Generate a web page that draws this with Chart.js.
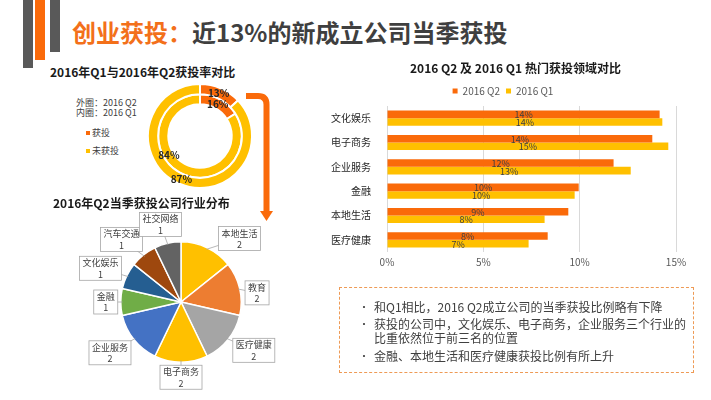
<!DOCTYPE html>
<html>
<head>
<meta charset="utf-8">
<script src="https://cdn.jsdelivr.net/npm/chart.js@4.4.0/dist/chart.umd.min.js"></script>
<style>
  body { margin: 0; width: 711px; height: 400px; background: #fff; position: relative; overflow: hidden;
         font-family: "Noto Sans CJK SC", sans-serif; color: #404040; }
  .abs { position: absolute; }
  .deco { position: absolute; top: 0; width: 10px; }
  .heading { left: 72px; top: 18px; font-size: 24px; font-weight: bold; line-height: 28px; color: #3f3f3f; white-space: nowrap; }
  .heading span { color: #f3701a; }
  .sub { font-size: 12px; font-weight: bold; line-height: 16px; color: #1a1a1a; white-space: nowrap; }
  .small { font-size: 9px; line-height: 11px; color: #404040; white-space: nowrap; }
  .sq { display: inline-block; width: 4px; height: 4px; margin-right: 2px; vertical-align: middle; position: relative; top: -1px; }
  .note { left: 339px; top: 287px; width: 355px; height: 86px; box-sizing: border-box; border: 1px dashed #ee9a55; }
  .note ul { margin: 0; padding: 11.7px 0 0 34px; list-style: none; }
  .note li { font-size: 12px; line-height: 14px; margin-bottom: 3.6px; position: relative; white-space: nowrap; color: #404040; }
  .note li::before { content: "•"; position: absolute; left: -15px; font-size: 10px; }
</style>
</head>
<body>
<div class="deco" style="left:23px;height:68px;background:#595959"></div>
<div class="deco" style="left:35px;height:60px;background:#fa6a0a"></div>
<div class="deco" style="left:50px;height:52px;background:#595959"></div>
<div class="abs heading"><span>创业获投：</span>近13%的新成立公司当季获投</div>

<div class="abs sub" style="left:50px;top:64px">2016年Q1与2016年Q2获投率对比</div>
<div class="abs small" style="left:76px;top:97px">外圈：2016 Q2</div>
<div class="abs small" style="left:76px;top:107px">内圈：2016 Q1</div>
<div class="abs small" style="left:86px;top:127px"><i class="sq" style="background:#fa6a0a"></i>获投</div>
<div class="abs small" style="left:86px;top:145px"><i class="sq" style="background:#ffc000"></i>未获投</div>
<canvas id="ringChart" class="abs" width="106" height="106" style="left:147px;top:83px"></canvas>

<svg class="abs" style="left:0;top:0" width="711" height="400">
  <path d="M246 96 H258 Q266.5 96 266.5 104.5 V212" fill="none" stroke="#fa6a0a" stroke-width="6"/>
  <path d="M260 211 L273 211 L266.5 221 Z" fill="#fa6a0a"/>
</svg>

<div class="abs sub" style="left:53px;top:195px">2016年Q2当季获投公司行业分布</div>
<canvas id="pieChart" class="abs" width="222" height="180" style="left:70px;top:212px"></canvas>

<div class="abs sub" style="left:410px;top:60px">2016 Q2 及 2016 Q1 热门获投领域对比</div>
<canvas id="barChart" class="abs" width="370" height="200" style="left:330px;top:80px"></canvas>

<div class="abs note">
  <ul>
    <li>和Q1相比，2016 Q2成立公司的当季获投比例略有下降</li>
    <li>获投的公司中，文化娱乐、电子商务，企业服务三个行业的<br>比重依然位于前三名的位置</li>
    <li>金融、本地生活和医疗健康获投比例有所上升</li>
  </ul>
</div>

<script>
// 获投率 (doughnut)
const ringLabels = ['获投', '未获投'];
const ringQ2 = [13, 87];   // 外圈
const ringQ1 = [16, 84];   // 内圈

// 2016 Q2 当季获投公司行业分布 (pie)
const pieLabels = ['本地生活', '教育', '医疗健康', '电子商务', '企业服务', '金融', '文化娱乐', '汽车交通', '社交网络'];
const pieValues = [2, 2, 2, 2, 2, 1, 1, 1, 1];

// 热门获投领域对比 (bar, %)
const barCategories = ['文化娱乐', '电子商务', '企业服务', '金融', '本地生活', '医疗健康'];
const barQ2 = [14.15, 13.77, 11.76, 9.95, 9.41, 8.34];
const barQ1 = [14.29, 14.6, 12.65, 9.74, 8.18, 7.35];
const barTicks = [0, 5, 10, 15];

const ORANGE = '#fa6a0a';
const GOLD = '#ffc000';
const pieColors = ['#ffc000', '#ed7d31', '#a5a5a5', '#ffc000', '#4472c4', '#70ad47', '#255e91', '#9e480e', '#636363'];
const calloutTurn = [17, 6, -5, 0, 3, 0, -3, -5, -2]; // degrees, nudges callouts like the slide
const ringLabelTurn = [[0, 0], [0, 29]];               // degrees, per ring / slice

Chart.defaults.font.family = '"Noto Sans CJK SC", sans-serif';
Chart.defaults.animation = false;

const ringValueLabels = {
  id: 'ringValueLabels',
  afterDatasetsDraw(chart) {
    const ctx = chart.ctx;
    ctx.save();
    ctx.font = 'bold 10px "Noto Sans CJK SC"';
    ctx.fillStyle = '#262626';
    ctx.textAlign = 'center';
    ctx.textBaseline = 'middle';
    chart.data.datasets.forEach((ds, i) => {
      chart.getDatasetMeta(i).data.forEach((arc, j) => {
        const a = arc.getProps(['x', 'y', 'startAngle', 'endAngle', 'innerRadius', 'outerRadius']);
        const mid = (a.startAngle + a.endAngle) / 2 + ringLabelTurn[i][j] * Math.PI / 180;
        const r = (a.innerRadius + a.outerRadius) / 2;
        ctx.fillText(ds.data[j] + '%', a.x + Math.cos(mid) * r, a.y + Math.sin(mid) * r);
      });
    });
    ctx.restore();
  }
};

new Chart(document.getElementById('ringChart'), {
  type: 'doughnut',
  data: {
    labels: ringLabels,
    datasets: [
      { label: '2016 Q2', data: ringQ2, backgroundColor: [ORANGE, GOLD], borderColor: '#fff', borderWidth: 2 },
      { label: '2016 Q1', data: ringQ1, backgroundColor: [ORANGE, GOLD], borderColor: '#fff', borderWidth: 2 }
    ]
  },
  options: {
    responsive: false,
    cutout: '61%',
    plugins: { legend: { display: false }, tooltip: { enabled: false } }
  },
  plugins: [ringValueLabels]
});

const pieCallouts = {
  id: 'pieCallouts',
  afterDatasetsDraw(chart) {
    const ctx = chart.ctx;
    const ds = chart.data.datasets[0];
    ctx.save();
    ctx.font = '9px "Noto Sans CJK SC"';
    chart.getDatasetMeta(0).data.forEach((arc, j) => {
      const a = arc.getProps(['x', 'y', 'startAngle', 'endAngle', 'outerRadius']);
      const mid = (a.startAngle + a.endAngle) / 2 + calloutTurn[j] * Math.PI / 180;
      const c = Math.cos(mid), s = Math.sin(mid);
      const lines = [chart.data.labels[j], String(ds.data[j])];
      const w = Math.max(...lines.map(t => ctx.measureText(t).width)) + 6;
      const h = 24;
      const d = a.outerRadius + 3 + Math.abs(s) * h / 2 + Math.abs(c) * w / 2;
      const bx = a.x + c * d, by = a.y + s * d;
      const am = (a.startAngle + a.endAngle) / 2;
      ctx.strokeStyle = '#a6a6a6';
      ctx.lineWidth = 0.8;
      ctx.beginPath();
      ctx.moveTo(a.x + Math.cos(am) * a.outerRadius * 0.97, a.y + Math.sin(am) * a.outerRadius * 0.97);
      ctx.lineTo(bx, by);
      ctx.stroke();
      ctx.fillStyle = '#fff';
      ctx.fillRect(bx - w / 2, by - h / 2, w, h);
      ctx.strokeRect(bx - w / 2, by - h / 2, w, h);
      ctx.fillStyle = '#404040';
      ctx.textAlign = 'center';
      ctx.textBaseline = 'middle';
      ctx.fillText(lines[0], bx, by - 5.5);
      ctx.fillText(lines[1], bx, by + 6);
    });
    ctx.restore();
  }
};

new Chart(document.getElementById('pieChart'), {
  type: 'pie',
  data: {
    labels: pieLabels,
    datasets: [{ data: pieValues, backgroundColor: pieColors, borderColor: '#fff', borderWidth: 1.5 }]
  },
  options: {
    responsive: false,
    layout: { padding: { top: 29, bottom: 29, left: 40, right: 40 } },
    plugins: { legend: { display: false }, tooltip: { enabled: false } }
  },
  plugins: [pieCallouts]
});

const barValueLabels = {
  id: 'barValueLabels',
  afterDatasetsDraw(chart) {
    const ctx = chart.ctx;
    ctx.save();
    ctx.font = '9px "Noto Sans CJK SC"';
    ctx.fillStyle = '#404040';
    ctx.textAlign = 'center';
    ctx.textBaseline = 'middle';
    chart.data.datasets.forEach((ds, i) => {
      chart.getDatasetMeta(i).data.forEach((bar, j) => {
        const p = bar.getProps(['x', 'y', 'base']);
        ctx.fillText(Math.round(ds.data[j]) + '%', (p.x + p.base) / 2, p.y + 0.5);
      });
    });
    ctx.restore();
  }
};

new Chart(document.getElementById('barChart'), {
  type: 'bar',
  data: {
    labels: barCategories,
    datasets: [
      { label: '2016 Q2', data: barQ2, backgroundColor: ORANGE },
      { label: '2016 Q1', data: barQ1, backgroundColor: GOLD }
    ]
  },
  options: {
    indexAxis: 'y',
    responsive: false,
    datasets: { bar: { barPercentage: 1, categoryPercentage: 0.62 } },
    layout: { padding: { left: 0, right: 24, bottom: 8, top: 0 } },
    plugins: {
      legend: {
        labels: { boxWidth: 5, boxHeight: 5, padding: 6, font: { size: 10 }, color: '#595959' }
      },
      tooltip: { enabled: false }
    },
    scales: {
      x: {
        min: 0, max: 15,
        afterBuildTicks: s => { s.ticks = barTicks.map(v => ({ value: v })); },
        ticks: { callback: v => v + '%', font: { size: 10 }, color: '#595959', padding: 4 },
        grid: { color: '#d9d9d9', drawTicks: false },
        border: { display: false }
      },
      y: {
        grid: { display: false },
        border: { display: false },
        ticks: { font: { size: 10 }, color: '#262626', padding: 8 },
        afterFit: s => { s.width = 57; }
      }
    }
  },
  plugins: [barValueLabels]
});
</script>
</body>
</html>
